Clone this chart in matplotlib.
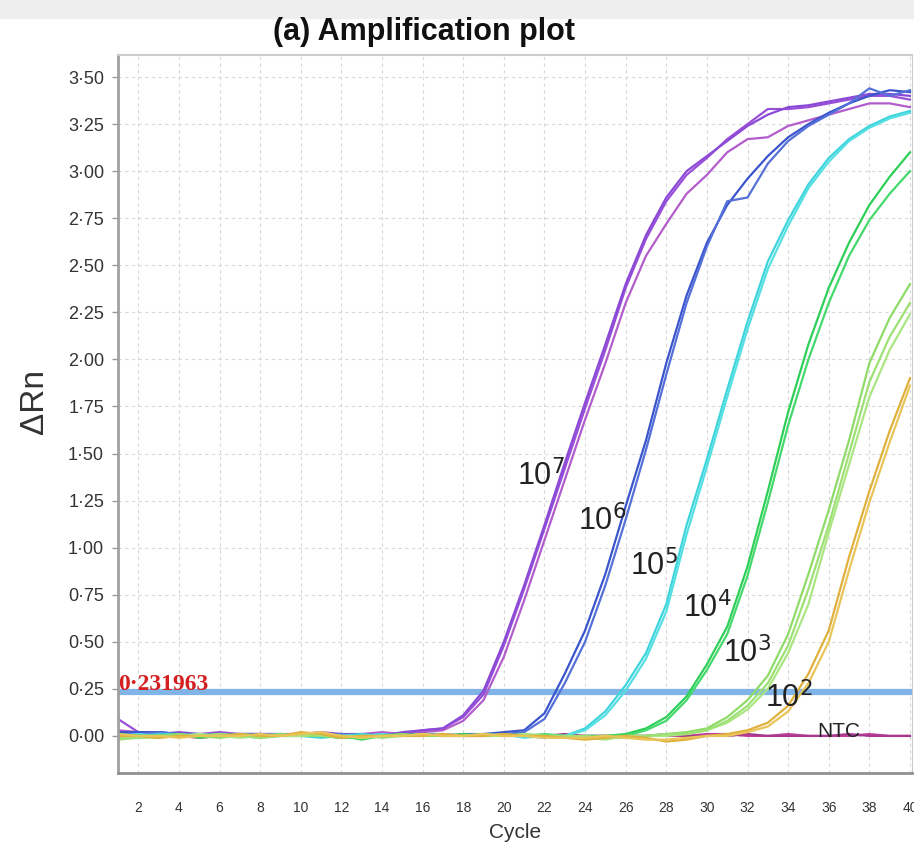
import matplotlib
matplotlib.use("Agg")
import matplotlib.pyplot as plt
from matplotlib import font_manager
from matplotlib.patches import Rectangle
from matplotlib.ticker import FuncFormatter

names = {f.name for f in font_manager.fontManager.ttflist}
narrow = 'Liberation Sans Narrow' if 'Liberation Sans Narrow' in names else 'Liberation Sans'

cycles = list(range(1, 41))

# 10^7 replicates
r7a = [0.09, 0.02, 0.02, 0.01, 0.01, 0.02, 0.01, 0.01, 0.00, 0.01, 0.02, 0.01, 0.00, 0.01, 0.01, 0.03, 0.04, 0.10, 0.22, 0.48,
       0.78, 1.10, 1.42, 1.74, 2.05, 2.38, 2.64, 2.84, 2.98, 3.07, 3.17, 3.25, 3.33, 3.33, 3.34, 3.36, 3.38, 3.40, 3.40, 3.38]
r7b = [0.03, 0.02, 0.01, 0.01, 0.00, 0.01, 0.01, 0.00, 0.01, 0.01, 0.01, 0.00, 0.01, 0.02, 0.01, 0.02, 0.03, 0.08, 0.19, 0.42,
       0.72, 1.04, 1.36, 1.68, 1.98, 2.30, 2.55, 2.72, 2.88, 2.98, 3.10, 3.17, 3.18, 3.24, 3.27, 3.30, 3.33, 3.36, 3.36, 3.34]
r7c = [0.02, 0.01, 0.01, 0.02, 0.01, 0.00, 0.01, 0.01, 0.01, 0.00, 0.01, 0.01, 0.01, 0.00, 0.02, 0.03, 0.04, 0.11, 0.24, 0.50,
       0.80, 1.12, 1.45, 1.77, 2.08, 2.40, 2.66, 2.86, 3.00, 3.08, 3.16, 3.24, 3.30, 3.34, 3.35, 3.37, 3.39, 3.41, 3.41, 3.40]
# 10^6
r6a = [0.02, 0.02, 0.02, 0.01, 0.01, 0.00, 0.01, 0.01, 0.00, 0.01, 0.01, 0.00, 0.01, 0.00, 0.01, 0.01, 0.01, 0.00, 0.01, 0.02,
       0.03, 0.12, 0.33, 0.56, 0.86, 1.22, 1.57, 1.98, 2.34, 2.62, 2.82, 2.96, 3.08, 3.18, 3.25, 3.31, 3.36, 3.40, 3.43, 3.42]
r6b = [0.01, 0.01, 0.02, 0.01, 0.00, 0.01, 0.00, 0.01, 0.01, 0.00, 0.01, 0.01, 0.00, 0.01, 0.00, 0.01, 0.00, 0.01, 0.01, 0.01,
       0.02, 0.09, 0.28, 0.50, 0.80, 1.15, 1.52, 1.92, 2.30, 2.60, 2.84, 2.86, 3.04, 3.16, 3.24, 3.30, 3.36, 3.44, 3.40, 3.43]
# 10^5
r5a = [0.01, 0.00, 0.01, 0.01, 0.00, 0.01, 0.00, 0.00, 0.01, 0.00, -0.01, 0.00, 0.01, 0.00, 0.00, 0.01, 0.00, 0.00, 0.01, 0.00,
       0.00, -0.01, 0.00, 0.04, 0.13, 0.27, 0.44, 0.70, 1.12, 1.47, 1.84, 2.20, 2.52, 2.74, 2.93, 3.07, 3.17, 3.24, 3.29, 3.32]
r5b = [0.00, 0.01, 0.00, 0.00, 0.01, 0.00, 0.01, 0.00, 0.00, 0.01, 0.00, -0.01, 0.00, 0.01, 0.00, 0.00, 0.01, 0.00, 0.00, 0.01,
       -0.01, 0.00, 0.00, 0.03, 0.11, 0.24, 0.41, 0.66, 1.07, 1.43, 1.80, 2.16, 2.48, 2.71, 2.91, 3.05, 3.16, 3.23, 3.28, 3.31]
# 10^4
r4a = [0.01, 0.00, 0.00, 0.01, -0.01, 0.00, 0.01, 0.00, 0.00, 0.01, 0.00, -0.01, -0.01, 0.00, 0.01, 0.00, 0.00, 0.01, 0.00, 0.00,
       0.01, 0.00, -0.01, 0.00, 0.00, 0.01, 0.04, 0.10, 0.21, 0.38, 0.58, 0.90, 1.30, 1.72, 2.08, 2.38, 2.62, 2.82, 2.97, 3.10]
r4b = [0.00, -0.01, 0.00, 0.00, 0.00, 0.01, 0.00, -0.01, 0.00, 0.00, 0.01, 0.00, -0.02, 0.00, 0.00, 0.01, 0.00, 0.00, 0.01, 0.00,
       0.00, 0.01, 0.00, -0.01, 0.00, 0.00, 0.03, 0.08, 0.19, 0.35, 0.54, 0.85, 1.24, 1.65, 2.00, 2.30, 2.55, 2.74, 2.88, 3.00]
# 10^3
r3a = [-0.01, 0.00, 0.00, 0.01, 0.00, -0.01, 0.00, 0.00, 0.01, 0.00, 0.00, -0.01, 0.00, 0.00, 0.01, 0.00, 0.00, 0.00, 0.01, 0.00,
       0.00, 0.00, -0.01, -0.01, 0.00, 0.00, 0.00, 0.01, 0.02, 0.04, 0.10, 0.19, 0.32, 0.54, 0.86, 1.20, 1.57, 1.98, 2.22, 2.40]
r3b = [0.00, -0.01, -0.01, 0.00, 0.01, 0.00, -0.01, 0.00, 0.00, 0.00, 0.01, 0.00, -0.01, 0.00, 0.00, 0.00, 0.01, 0.00, 0.00, 0.00,
       0.01, 0.00, 0.00, -0.01, -0.02, 0.00, 0.00, 0.00, 0.01, 0.03, 0.07, 0.14, 0.25, 0.44, 0.70, 1.08, 1.44, 1.80, 2.05, 2.24]
r3c = [-0.02, -0.01, 0.00, 0.00, 0.00, 0.01, 0.00, -0.01, 0.00, 0.01, 0.00, 0.00, 0.00, -0.01, 0.00, 0.01, 0.00, 0.00, 0.00, 0.01,
       0.00, 0.00, 0.00, 0.00, -0.01, -0.01, 0.00, 0.01, 0.01, 0.03, 0.08, 0.16, 0.28, 0.48, 0.78, 1.12, 1.50, 1.88, 2.12, 2.30]
# 10^2
r2a = [0.00, 0.00, -0.01, 0.00, 0.00, 0.00, 0.01, 0.00, 0.00, 0.02, 0.01, -0.01, 0.00, 0.00, 0.00, 0.00, 0.01, 0.00, 0.00, 0.01,
       0.00, 0.00, -0.01, -0.02, -0.01, 0.00, -0.01, -0.03, -0.02, 0.00, 0.01, 0.03, 0.07, 0.16, 0.33, 0.56, 0.95, 1.30, 1.62, 1.90]
r2b = [0.01, 0.00, 0.00, -0.01, 0.00, 0.00, 0.00, 0.01, 0.00, 0.01, 0.02, 0.00, -0.01, 0.00, 0.00, 0.01, 0.00, 0.00, 0.01, 0.00,
       0.00, -0.01, -0.01, -0.01, 0.00, -0.01, -0.02, -0.02, -0.01, 0.00, 0.00, 0.02, 0.05, 0.13, 0.28, 0.50, 0.88, 1.24, 1.56, 1.86]
# NTC
ntc_a = [0.00, 0.01, 0.00, 0.00, -0.01, 0.00, 0.00, 0.01, 0.00, 0.00, 0.00, 0.01, 0.00, 0.00, 0.00, 0.00, 0.01, 0.00, 0.00, 0.00,
         0.00, 0.00, 0.00, 0.00, 0.00, 0.00, 0.00, 0.00, 0.00, 0.01, 0.01, 0.00, 0.00, 0.01, 0.00, 0.00, 0.00, 0.01, 0.00, 0.00]
ntc_b = [0.01, 0.00, 0.00, 0.01, 0.00, 0.00, 0.01, 0.00, 0.00, 0.00, 0.01, 0.00, 0.00, 0.00, 0.00, 0.01, 0.00, 0.00, 0.00, 0.01,
         0.00, 0.00, 0.01, 0.00, 0.00, 0.00, 0.00, 0.01, 0.00, 0.00, 0.00, 0.01, 0.00, 0.00, 0.00, 0.00, 0.01, 0.00, 0.00, 0.00]

series = [
    (ntc_a, '#c0409f'), (ntc_b, '#a8388e'),
    (r7a, '#9a4fd8'), (r7b, '#b35ccc'), (r7c, '#8b4ad6'),
    (r6a, '#3a55cc'), (r6b, '#5570d8'),
    (r5a, '#3ed4dc'), (r5b, '#55dfe2'),
    (r4a, '#2ecf58'), (r4b, '#44d96c'),
    (r3a, '#8fdb68'), (r3b, '#abe682'), (r3c, '#9de074'),
    (r2a, '#e0b03c'), (r2b, '#e9c458'),
]

threshold = 0.231963
labels = ['10$^7$', '10$^6$', '10$^5$', '10$^4$', '10$^3$', '10$^2$', 'NTC']
label_pos = [(20.63, 1.333), (23.64, 1.094), (26.20, 0.855), (28.81, 0.632),
             (30.78, 0.393), (32.85, 0.154), (35.42, -0.005)]

fig = plt.figure(figsize=(9.14, 8.46), dpi=100)
fig.patches.append(Rectangle((0, 1 - 18 / 846), 1, 18 / 846, transform=fig.transFigure,
                             color='#eeeeee', zorder=0))
ax = fig.add_axes([118 / 914, 1 - 773 / 846, (912 - 118) / 914, (773 - 55) / 846])

ax.axhline(threshold, color='#80b4e6', lw=4.5, zorder=1)
for vals, col in series:
    ax.plot(cycles, vals, color=col, lw=1.6, zorder=2)

for txt, (x, y) in zip(labels, label_pos):
    fs = 15 if txt == 'NTC' else 22
    ax.text(x, y, txt, fontsize=fs, color='#222222', ha='left', va='baseline',
            family='Liberation Sans', zorder=3)

ax.text(1.02, 0.245, '0\u00b7231963', fontsize=17, color='#d42020', fontweight='bold',
        family='Liberation Serif', ha='left', va='baseline', zorder=3)

ax.set_xlim(1, 40.1)
ax.set_ylim(-0.197, 3.617)
ax.set_xticks(range(2, 41, 2))
ax.set_yticks([i * 0.25 for i in range(15)])
ax.yaxis.set_major_formatter(FuncFormatter(lambda v, p: f'{v:.2f}'.replace('.', '\u00b7')))
ax.grid(True, color='#d8d8d8', lw=0.8, linestyle=(0, (3, 3)))
ax.set_axisbelow(True)

for lab in ax.get_yticklabels():
    lab.set_family('Liberation Sans')
    lab.set_fontsize(13)
    lab.set_color('#333333')
for lab in ax.get_xticklabels():
    lab.set_family(narrow)
    lab.set_fontsize(10)
    lab.set_color('#333333')
ax.tick_params(axis='y', length=4, width=1, color='#999999', pad=6)
ax.tick_params(axis='x', length=0, pad=20)

ax.spines['left'].set_color('#a0a0a0')
ax.spines['left'].set_linewidth(2)
ax.spines['bottom'].set_color('#909090')
ax.spines['bottom'].set_linewidth(2)
ax.spines['top'].set_color('#cccccc')
ax.spines['top'].set_linewidth(1.5)
ax.spines['right'].set_color('#cccccc')

ax.set_xlabel('Cycle', fontsize=15, family=narrow, color='#333333', labelpad=6)
ax.set_ylabel('\u0394Rn', fontsize=24, family='Liberation Sans', color='#333333')
ax.yaxis.set_label_coords(-0.0856, 0.517)

fig.text(0.464, 0.962, '(a) Amplification plot', fontsize=22, fontweight='bold',
         family=narrow, ha='center', va='center', color='#111111')

fig.savefig('out.png', dpi=100)
